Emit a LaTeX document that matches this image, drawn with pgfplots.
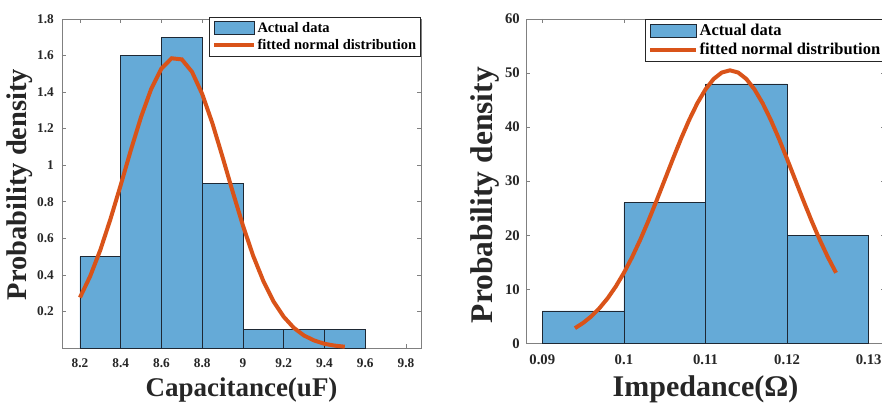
\documentclass[border=0pt]{standalone}
\usepackage{pgfplots}
\pgfplotsset{compat=1.18}
\usepackage{fontspec}
\setmainfont{Liberation Serif}
\definecolor{histblue}{RGB}{101,170,215}
\definecolor{edgec}{RGB}{30,40,52}
\definecolor{fitred}{RGB}{217,83,25}
\definecolor{axgray}{RGB}{128,128,128}
\definecolor{txt}{RGB}{38,38,38}
\pgfplotsset{
  mystyle/.style={
    scale only axis,
    axis line style={axgray, line width=0.9pt},
    tick style={axgray, line width=0.7pt},
    major tick length=4pt,
    tick align=inside,
    xtick pos=both, ytick pos=both,
    ticklabel style={txt, inner sep=0pt},
    /pgf/number format/assume math mode=true,
    scaled ticks=false,
    label style={txt},
    clip=false,
    legend cell align=left,
  },
  barleg/.style={legend image code/.code={\draw[fill=histblue, draw=edgec, line width=0.7pt] (0pt,-6.5pt) rectangle (#1,6.5pt);}},
  lineleg/.style={legend image code/.code={\draw[fitred, line width=4pt] (0pt,0pt) -- (#1,0pt);}},
}
\begin{document}
\begin{tikzpicture}
\useasboundingbox (0,0) rectangle (882pt,403pt);
% ---------------- left panel ----------------
\begin{axis}[mystyle,
  at={(62pt,55pt)}, anchor=south west, width=359pt, height=329pt,
  xmin=8.112, xmax=9.874, ymin=0, ymax=1.8,
  xtick={8.2,8.4,8.6,8.8,9,9.2,9.4,9.6,9.8},
  xticklabels={8.2,8.4,8.6,8.8,9,9.2,9.4,9.6,9.8},
  ytick={0.2,0.4,0.6,0.8,1,1.2,1.4,1.6,1.8},
  yticklabels={0.2,0.4,0.6,0.8,1,1.2,1.4,1.6,1.8},
  ticklabel style={font=\bfseries\fontsize{13.3}{15}\selectfont},
  xticklabel style={yshift=-10.5pt},
  yticklabel style={xshift=-8pt},
  xlabel={Capacitance(uF)},
  ylabel={Probability density},
  xlabel style={font=\bfseries\fontsize{27}{30}\selectfont, at={(axis description cs:0.5,-0.146)}, anchor=base},
  ylabel style={font=\bfseries\fontsize{28.5}{31}\selectfont, at={(axis description cs:-0.0975,0.497)}, anchor=base},
  legend style={at={(1,1)}, anchor=north east, yshift=2pt, draw=txt, line width=0.6pt,
    font=\bfseries\fontsize{14.5}{16}\selectfont, inner xsep=3pt, inner ysep=3.5pt,
    row sep=2.5pt, nodes={inner sep=1.5pt}},
]
\addplot[ybar, bar width=0.2, bar shift=0pt, fill=histblue, draw=edgec, line width=0.7pt, barleg=40pt]
  coordinates {(8.3,0.5) (8.5,1.6) (8.7,1.7) (8.9,0.9) (9.1,0.1) (9.3,0.1) (9.5,0.1)};
\addlegendentry{Actual data}
\addplot[fitred, line width=4pt, line cap=butt, lineleg=40pt] coordinates {
(8.20,0.276) (8.25,0.392) (8.30,0.536) (8.35,0.706) (8.40,0.891) (8.45,1.083)
(8.50,1.264) (8.55,1.418) (8.60,1.529) (8.65,1.585) (8.70,1.579) (8.75,1.511)
(8.80,1.390) (8.85,1.230) (8.90,1.045) (8.95,0.854) (9.00,0.670) (9.05,0.505)
(9.10,0.367) (9.15,0.255) (9.20,0.171) (9.25,0.110) (9.30,0.068) (9.35,0.041)
(9.40,0.023) (9.45,0.013) (9.50,0.007)};
\addlegendentry{fitted normal distribution}
\end{axis}
% ---------------- right panel ----------------
\begin{axis}[mystyle,
  at={(526pt,59.7pt)}, anchor=south west, width=359pt, height=324.3pt,
  xmin=0.088, xmax=0.132, ymin=0, ymax=60,
  xtick={0.09,0.1,0.11,0.12,0.13},
  xticklabels={0.09,0.1,0.11,0.12,0.13},
  ytick={0,10,20,30,40,50,60},
  yticklabels={0,10,20,30,40,50,60},
  ticklabel style={font=\bfseries\fontsize{14.7}{16}\selectfont},
  xticklabel style={yshift=-11.7pt},
  yticklabel style={xshift=-6pt},
  xlabel={Impedance(Ω)},
  ylabel={Probability density},
  xlabel style={font=\bfseries\fontsize{30}{33}\selectfont, at={(axis description cs:0.5,-0.163)}, anchor=base},
  ylabel style={font=\bfseries\fontsize{31.5}{34}\selectfont, at={(axis description cs:-0.092,0.457)}, anchor=base},
  legend style={at={(1,1)}, anchor=north east, draw=txt, line width=0.6pt,
    font=\bfseries\fontsize{16.5}{18}\selectfont, inner xsep=3pt, inner ysep=3.5pt,
    row sep=3pt, nodes={inner sep=1.5pt}},
]
\addplot[ybar, bar width=0.01, bar shift=0pt, fill=histblue, draw=edgec, line width=0.7pt, barleg=46pt]
  coordinates {(0.095,6) (0.105,26) (0.115,48) (0.125,20)};
\addlegendentry{Actual data}
\addplot[fitred, line width=4pt, line cap=butt, lineleg=46pt] coordinates {
(0.094,2.80) (0.095,3.77) (0.096,4.98) (0.097,6.50) (0.098,8.32) (0.099,10.50)
(0.100,13.04) (0.101,15.93) (0.102,19.15) (0.103,22.66) (0.104,26.39) (0.105,30.24)
(0.106,34.10) (0.107,37.85) (0.108,41.33) (0.109,44.42) (0.110,46.98) (0.111,48.91)
(0.112,50.10) (0.113,50.50) (0.114,50.10) (0.115,48.91) (0.116,46.98) (0.117,44.42)
(0.118,41.33) (0.119,37.85) (0.120,34.10) (0.121,30.24) (0.122,26.39) (0.123,22.66)
(0.124,19.15) (0.125,15.93) (0.126,13.04)};
\addlegendentry{fitted normal distribution}
\end{axis}
\end{tikzpicture}
\end{document}
